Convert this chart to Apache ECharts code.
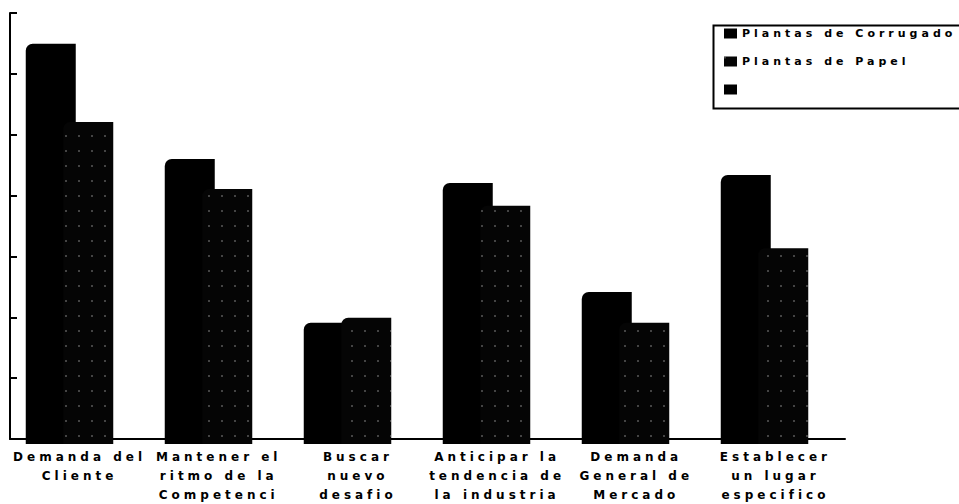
<!DOCTYPE html>
<html>
<head>
<meta charset="utf-8">
<script src="https://cdn.jsdelivr.net/npm/echarts@6/dist/echarts.min.js"></script>
<style>
  html, body { margin: 0; padding: 0; background: #fff; }
  #chart { width: 959px; height: 504px; }
  #chart svg text { letter-spacing: 4px; }
</style>
</head>
<body>
<div id="chart"></div>
<script>
var categories = ['Demanda del\nCliente', 'Mantener el\nritmo de la\nCompetenci', 'Buscar\nnuevo\ndesafio', 'Anticipar la\ntendencia de\nla industria', 'Demanda\nGeneral de\nMercado', 'Establecer\nun lugar\nespecifico'];
var seriesNames = ['Plantas de Corrugado', 'Plantas de Papel', ' '];
var corrugado = [6.5, 4.63, 1.97, 4.24, 2.47, 4.37];
var papel = [5.23, 4.14, 2.05, 3.87, 1.97, 3.18];
var yMin = 0, yMax = 7, yStep = 1;

var chart = echarts.init(document.getElementById('chart'), null, { renderer: 'svg' });
var font = '"DejaVu Sans", Arial, sans-serif';
chart.setOption({
  animation: false,
  backgroundColor: '#fff',
  aria: { enabled: true, decal: { show: true } },
  grid: [
    { left: 10, right: 114, top: 13, bottom: 60 },
    { left: -1, right: 125, top: 13, bottom: 60 }
  ],
  xAxis: [
    {
      gridIndex: 0, type: 'category', data: categories,
      axisLine: { lineStyle: { color: '#000', width: 2 } },
      axisTick: { inside: true, length: 5, lineStyle: { color: '#000', width: 2 } },
      axisLabel: { interval: 0, color: '#000', fontFamily: font, fontWeight: 'bold', fontSize: 12, lineHeight: 19, margin: 8 }
    },
    { gridIndex: 1, type: 'category', data: categories, show: false }
  ],
  yAxis: [
    {
      gridIndex: 0, type: 'value', min: yMin, max: yMax, interval: yStep,
      axisLine: { show: true, lineStyle: { color: '#000', width: 2 } },
      axisTick: { show: true, inside: true, length: 7, lineStyle: { color: '#000', width: 2 } },
      axisLabel: { show: false },
      splitLine: { show: false }
    },
    { gridIndex: 1, type: 'value', min: yMin, max: yMax, interval: yStep, show: false, splitLine: { show: false } }
  ],
  legend: {
    orient: 'vertical', left: 724, top: 28,
    data: seriesNames,
    icon: 'rect', itemWidth: 13, itemHeight: 10, itemGap: 17,
    padding: 0,
    textStyle: { color: '#000', fontFamily: font, fontWeight: 'bold', fontSize: 11, padding: [0, 0, 0, 0] }
  },
  graphic: [
    { type: 'rect', left: 711, top: 23, shape: { width: 260, height: 83 }, style: { fill: 'none', stroke: '#000', lineWidth: 2 }, silent: true }
  ],
  series: [
    {
      name: seriesNames[0], type: 'bar', xAxisIndex: 1, yAxisIndex: 1,
      data: corrugado, barWidth: 50, barGap: '-25%',
      itemStyle: { color: '#000', borderRadius: [7, 0, 0, 0], decal: { symbol: 'none' } }
    },
    {
      name: seriesNames[1], type: 'bar', xAxisIndex: 1, yAxisIndex: 1,
      data: papel, barWidth: 50, barGap: '-25%',
      itemStyle: {
        color: '#050505', borderRadius: [7, 0, 0, 0],
        decal: { symbol: 'rect', symbolSize: 1, color: 'rgba(255,255,255,0.25)', dashArrayX: [[2, 11]], dashArrayY: [2, 13], rotation: 0 }
      }
    },
    {
      name: seriesNames[2], type: 'bar', xAxisIndex: 0, yAxisIndex: 0,
      data: [], itemStyle: { color: '#000', decal: { symbol: 'none' } }
    }
  ]
});
</script>
</body>
</html>
